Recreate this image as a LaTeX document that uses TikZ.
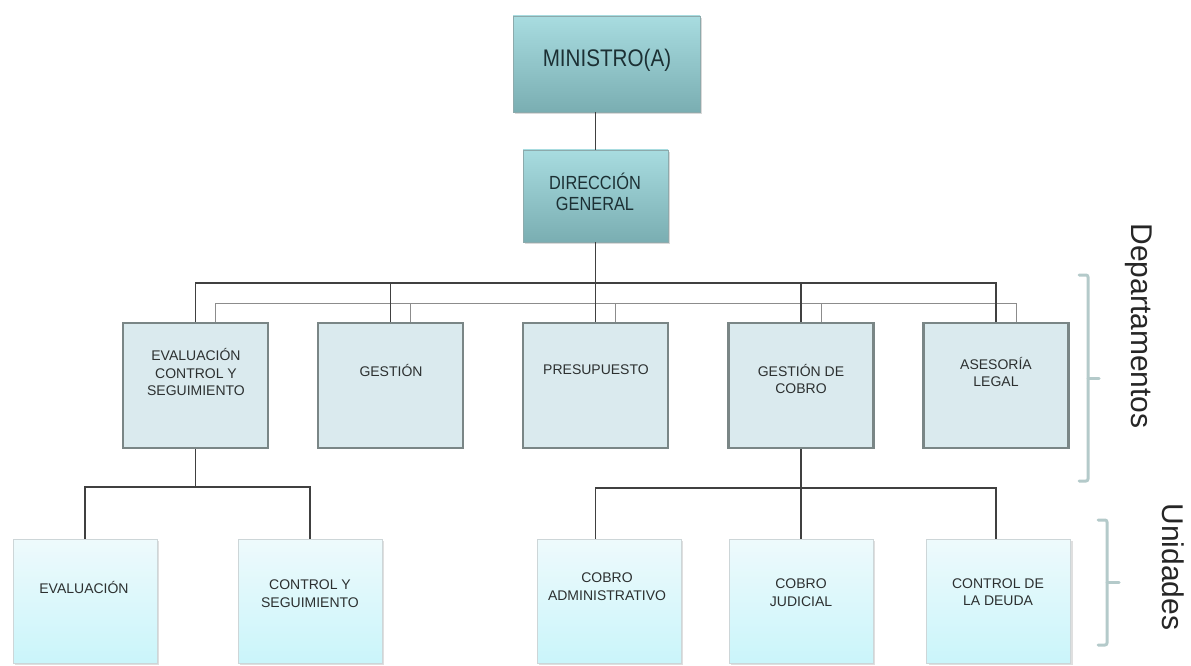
\documentclass[tikz,border=0pt]{standalone}
\usepackage{fontspec}
\setmainfont{Liberation Sans}
\newfontfamily\narrowsans[FakeStretch=0.86]{Liberation Sans}
\usetikzlibrary{shadows}
\definecolor{toptop}{RGB}{168,220,224}
\definecolor{topbot}{RGB}{122,174,178}
\definecolor{topdraw}{RGB}{140,170,172}
\definecolor{deptfill}{RGB}{218,234,238}
\definecolor{deptdraw}{RGB}{122,134,134}
\definecolor{unittop}{RGB}{238,250,252}
\definecolor{unitbot}{RGB}{202,245,250}
\definecolor{unitdraw}{RGB}{205,214,216}
\definecolor{conncol}{RGB}{64,64,64}
\definecolor{gcol}{RGB}{140,140,140}
\definecolor{bracecol}{RGB}{180,202,202}
\definecolor{txt}{RGB}{44,48,48}
\definecolor{toptxt}{RGB}{28,48,52}
\begin{document}
\begin{tikzpicture}[x=1pt,y=-1pt,
  topbox/.style={draw=topdraw, line width=0.6pt, top color=toptop, bottom color=topbot,
    inner sep=0pt, drop shadow={opacity=0.3, shadow xshift=2pt, shadow yshift=-2pt}},
  deptbox/.style={draw=deptdraw, line width=2.2pt, fill=deptfill,
    minimum width=145pt, minimum height=125pt, inner sep=0pt},
  unitbox/.style={draw=unitdraw, line width=0.6pt, top color=unittop, bottom color=unitbot,
    minimum width=144pt, minimum height=124pt, inner sep=0pt,
    drop shadow={opacity=0.25, shadow xshift=2pt, shadow yshift=-2pt}},
  lbl/.style={align=center, font=\fontsize{14}{17.5}\selectfont, text=txt, inner sep=0pt},
  toplbl/.style={align=center, text=toptxt, inner sep=0pt},
  sidelbl/.style={font=\fontsize{30}{32}\selectfont, text=black!85, inner sep=0pt, rotate=-90, anchor=base},
  conn/.style={draw=conncol, line width=1.4pt},
  gconn/.style={draw=gcol, line width=1pt},
  bracestyle/.style={draw=bracecol, line width=3pt, line cap=round, line join=round, rounded corners=2pt}
]
\useasboundingbox (0,0) rectangle (1191,666);

% top boxes
\node[topbox, minimum width=187pt, minimum height=96pt] (min) at (606.5,64) {};
\node[toplbl, font=\narrowsans\fontsize{24}{26}\selectfont] (minT) at (607,60) {MINISTRO(A)};
\node[topbox, minimum width=145pt, minimum height=92pt] (dg) at (595.5,196) {};
\node[toplbl, font=\narrowsans\fontsize{19}{21}\selectfont] (dgT) at (595,192) {DIRECCIÓN\\GENERAL};

% bus levels
\coordinate (bus) at (0,283);
\coordinate (gbus) at (0,303);
\coordinate (ubusL) at (0,487);
\coordinate (ubusR) at (0,488);

% departments
\node[deptbox] (d1) at (195.5,385.5) {};
\node[deptbox] (d2) at (390.5,385.5) {};
\node[deptbox] (d3) at (595.5,385.5) {};
\node[deptbox] (d4) at (801,385.5) {};
\node[deptbox] (d5) at (996,385.5) {};
\node[lbl] (d1T) at (196,372) {EVALUACIÓN\\CONTROL Y\\SEGUIMIENTO};
\node[lbl] (d2T) at (391,370) {GESTIÓN};
\node[lbl] (d3T) at (596,370) {PRESUPUESTO};
\node[lbl] (d4T) at (801,379) {GESTIÓN DE\\COBRO};
\node[lbl] (d5T) at (996,372) {ASESORÍA\\LEGAL};

% units
\node[unitbox] (u1) at (85,601) {};
\node[unitbox] (u2) at (310,601) {};
\node[unitbox] (u3) at (609,601) {};
\node[unitbox] (u4) at (801,601) {};
\node[unitbox] (u5) at (998.5,601) {};
\node[lbl] (u1T) at (84,587) {EVALUACIÓN};
\node[lbl] (u2T) at (310,593.5) {CONTROL Y\\SEGUIMIENTO};
\node[lbl] (u3T) at (607,586.5) {COBRO\\ADMINISTRATIVO};
\node[lbl] (u4T) at (801,592.5) {COBRO\\JUDICIAL};
\node[lbl] (u5T) at (998,592) {CONTROL DE\\LA DEUDA};

% connectors: top
\draw[conn] (dg.north) -- (dg.north |- min.south);
% grey secondary bus
\draw[gconn] ([xshift=20pt]d1.north) |- ([xshift=20pt]d5.north |- gbus) -- ([xshift=20pt]d5.north);
\foreach \d in {d2,d3,d4}{
  \draw[gconn] ([xshift=20pt]\d.north) -- ([xshift=20pt]\d.north |- gbus);
}
% dark main bus
\draw[conn] (dg.south) -- (dg.south |- bus);
\draw[conn] (d1.north) |- (d5.north |- bus) -- (d5.north);
\foreach \d in {d2,d3,d4}{
  \draw[conn] (\d.north) -- (\d.north |- bus);
}
% units under d1
\draw[conn] (d1.south) -- (d1.south |- ubusL);
\draw[conn] (u1.north) |- (u2.north |- ubusL) -- (u2.north);
% units under d4
\draw[conn] (d4.south) -- (u4.north);
\draw[conn] (u3.north -| d3.south) |- (ubusR -| d5.south) -- (u5.north -| d5.south);

% braces
\draw[bracestyle] (1079,275) -- (1088,275) -- (1088,481) -- (1079,481);
\draw[bracestyle] (1088,378) -- (1099,378);
\draw[bracestyle] (1098,520) -- (1107,520) -- (1107,645) -- (1098,645);
\draw[bracestyle] (1107,582) -- (1119,582);

% side labels
\node[sidelbl] (dep) at (1131,326) {Departamentos};
\node[sidelbl] (uni) at (1162,567) {Unidades};
\end{tikzpicture}
\end{document}
